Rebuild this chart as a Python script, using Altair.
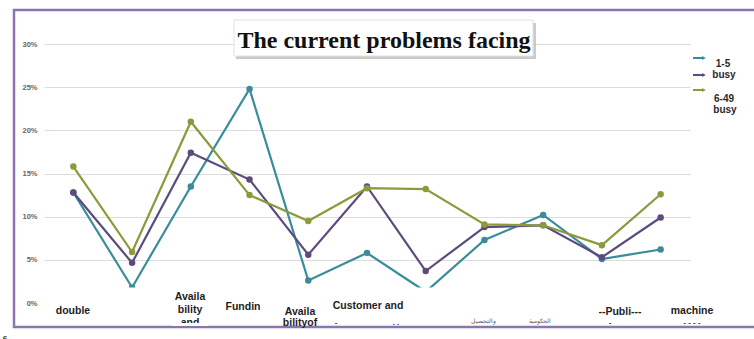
import altair as alt
import pandas as pd

# ---------------- data ----------------
categories = ["double", "c2", "availability_and", "funding", "availability_of",
              "customer_and", "c7", "collection", "government", "public", "machine"]
series_names = ["1-5 busy", "busy", "6-49 busy"]
series_colors = ["#3a8c9a", "#5d4a7f", "#8c9a3e"]
values_1_5 = [12.8, 1.8, 13.5, 24.8, 2.6, 5.8, 1.3, 7.3, 10.2, 5.1, 6.2]
values_busy = [12.8, 4.65, 17.4, 14.3, 5.6, 13.5, 3.7, 8.8, 9.0, 5.3, 9.9]
values_6_49 = [15.8, 5.9, 21.0, 12.5, 9.5, 13.3, 13.2, 9.1, 9.0, 6.7, 12.6]
y_ticks = [0, 5, 10, 15, 20, 25, 30]

title_text = "The current problems facing"
legend_texts = ["1-5", "busy", "6-49", "busy"]
x_label_texts = ["double", "Availa", "bility", "and", "Fundin", "Availa", "bilityof",
                 "Customer and", "--Publi---", "machine"]
arabic_texts = ["والتحصيل", "الحكومية"]
minor_texts = ["-", ".  .", "-", "- - - -", "6"]

# ---------------- layout (pixels relative to plot origin) ----------------
W, H = 646, 259
series_values = [values_1_5, values_busy, values_6_49]

def px(field):
    return alt.X(f"{field}:Q", scale=None, axis=None)

def py(field):
    return alt.Y(f"{field}:Q", scale=None, axis=None)

layers = []

# outer purple frame
frame = alt.Chart(pd.DataFrame({"a": [-30], "b": [730], "c": [-34], "d": [283]})).mark_rect(
    fill=None, stroke="#8a76ae", strokeWidth=2.5
).encode(x=px("a"), x2="b", y=py("c"), y2="d")
layers.append(frame)

# main series
for i, (name, vals) in enumerate(zip(series_names, series_values)):
    df = pd.DataFrame({"cat": categories, "v": vals, "series": name})
    xenc = alt.X("cat:N", sort=categories, scale=alt.Scale(type="point", padding=0.5), axis=None)
    if i == 0:
        yaxis = alt.Axis(values=y_ticks, labelExpr="datum.value + '%'", grid=True,
                         domain=False, ticks=False, labelPadding=7, labelFontSize=7.5,
                         labelFontWeight="bold", labelColor="#666666",
                         labelFont="Liberation Sans", gridColor="#dcdcdc",
                         gridWidth=1, title=None)
        yline = alt.Y("v:Q", scale=alt.Scale(domain=[0, 30]), axis=yaxis)
    else:
        yline = alt.Y("v:Q", scale=alt.Scale(domain=[0, 30]), axis=None)
    ypts = alt.Y("v:Q", scale=alt.Scale(domain=[0, 30]), axis=None)
    line = alt.Chart(df).mark_line(color=series_colors[i], strokeWidth=2.2).encode(x=xenc, y=yline)
    pts = alt.Chart(df).mark_circle(color=series_colors[i], size=42, opacity=1).encode(x=xenc, y=ypts)
    layers += [line, pts]

# white area that hides the bottom of the plot (label strip)
cover = alt.Chart(pd.DataFrame({"a": [0], "b": [658], "c": [243.5], "d": [281]})).mark_rect(
    fill="white"
).encode(x=px("a"), x2="b", y=py("c"), y2="d")
layers.append(cover)

# title box with shadow
shadow = alt.Chart(pd.DataFrame({"a": [192], "b": [492], "c": [-21], "d": [15]})).mark_rect(
    fill="#b5b5b5", opacity=0.7
).encode(x=px("a"), x2="b", y=py("c"), y2="d")
box = alt.Chart(pd.DataFrame({"a": [190], "b": [489], "c": [-24], "d": [12]})).mark_rect(
    fill="white", stroke="#e2e2e2", strokeWidth=1
).encode(x=px("a"), x2="b", y=py("c"), y2="d")
title = alt.Chart(pd.DataFrame({"t": [title_text], "x": [340], "y": [4]})).mark_text(
    font="Liberation Serif", fontWeight="bold", fontSize=24, fill="#111111",
    align="center", baseline="alphabetic"
).encode(x=px("x"), y=py("y"), text="t:N")
layers += [shadow, box, title]

# x labels
xl = pd.DataFrame({
    "t": x_label_texts,
    "x": [29, 146, 146, 146, 199, 256, 256, 324, 576, 648],
    "y": [270, 256, 269, 282, 266, 271, 282, 265, 271, 270],
})
xlabels = alt.Chart(xl).mark_text(
    font="Liberation Sans", fontWeight="bold", fontSize=10.5, fill="#1e1e1e",
    align="center", baseline="alphabetic"
).encode(x=px("x"), y=py("y"), text="t:N")
ar = pd.DataFrame({"t": arabic_texts, "x": [439, 496], "y": [279, 279]})
arlabels = alt.Chart(ar).mark_text(
    font="Noto Sans", fontSize=6, fill="#555555", align="center", baseline="alphabetic"
).encode(x=px("x"), y=py("y"), text="t:N")
mn = pd.DataFrame({"t": minor_texts, "x": [292, 352, 566, 648, -39],
                   "y": [281, 281, 281, 281, 297]})
mnlabels = alt.Chart(mn).mark_text(
    font="Liberation Sans", fontWeight="bold", fontSize=8, fill="#333333",
    align="center", baseline="alphabetic"
).encode(x=px("x"), y=py("y"), text="t:N")
# clip strip under "and"
clip = alt.Chart(pd.DataFrame({"a": [128], "b": [164], "c": [279], "d": [282]})).mark_rect(
    fill="white"
).encode(x=px("a"), x2="b", y=py("c"), y2="d")
layers += [xlabels, arlabels, mnlabels, clip]

# legend
lg = pd.DataFrame({"x": [649] * 3, "x2": [660] * 3, "y": [14, 31, 46], "c": series_colors})
lg_rules = alt.Chart(lg).mark_rule(strokeWidth=2).encode(
    x=px("x"), x2="x2", y=py("y"), color=alt.Color("c:N", scale=None)
)
lg_heads = alt.Chart(lg).mark_point(shape="triangle-right", filled=True, size=18, opacity=1).encode(
    x=px("x2"), y=py("y"), color=alt.Color("c:N", scale=None)
)
lt = pd.DataFrame({"t": legend_texts, "x": [679, 680, 680, 681], "y": [23, 34, 58, 69]})
lg_text = alt.Chart(lt).mark_text(
    font="Liberation Sans", fontWeight="bold", fontSize=10, fill="#2a2a2a",
    align="center", baseline="alphabetic"
).encode(x=px("x"), y=py("y"), text="t:N")
layers += [lg_rules, lg_heads, lg_text]

chart = alt.layer(*layers).resolve_scale(
    x="independent", y="independent", color="independent"
).properties(
    width=W, height=H,
    autosize=alt.AutoSizeParams(type="none"),
    padding={"left": 44, "top": 44, "right": 64, "bottom": 36},
    background="white",
).configure_view(stroke=None)

chart.save("out.html", embed_options={"renderer": "svg", "actions": False})
